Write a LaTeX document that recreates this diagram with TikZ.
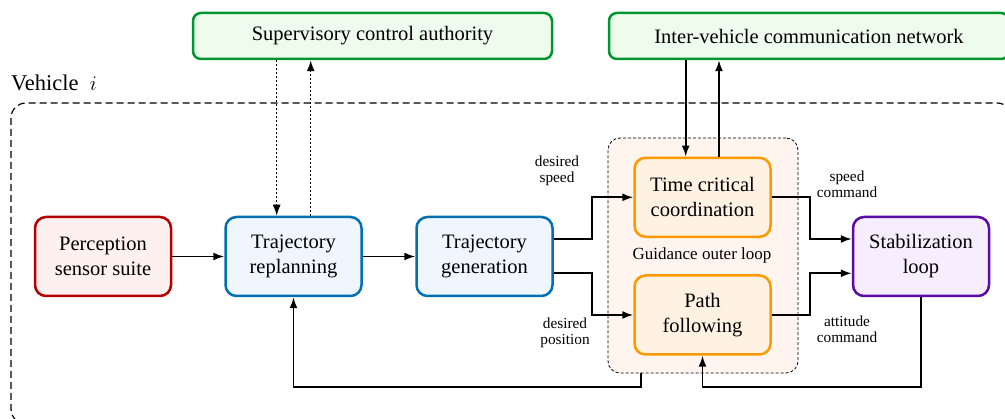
\documentclass[tikz,border=0pt]{standalone}
\usepackage{fontspec}
\setmainfont{Liberation Serif}
\usetikzlibrary{arrows.meta,positioning}

\definecolor{redE}{RGB}{180,0,0}
\definecolor{redF}{RGB}{255,240,240}
\definecolor{blueE}{RGB}{0,112,176}
\definecolor{blueF}{RGB}{240,246,255}
\definecolor{orangeE}{RGB}{255,153,0}
\definecolor{orangeF}{RGB}{255,242,226}
\definecolor{purpleE}{RGB}{92,10,166}
\definecolor{purpleF}{RGB}{246,238,255}
\definecolor{greenE}{RGB}{0,150,46}
\definecolor{greenF}{RGB}{238,252,238}
\definecolor{guideF}{RGB}{255,245,238}

\tikzset{
  block/.style={rounded corners=11pt, line width=2.5pt, minimum width=136pt,
    minimum height=79pt, align=center, inner sep=0pt,
    font=\fontsize{20.5}{25}\selectfont},
  extbox/.style={rounded corners=8pt, line width=2.5pt, draw=greenE, fill=greenF,
    minimum height=46pt, inner sep=0pt, font=\fontsize{20.5}{25}\selectfont},
  lbl/.style={align=center, inner sep=0pt, font=\fontsize{15.3}{16}\selectfont},
  conn/.style={line width=1.7pt, -{Latex[length=11pt,width=8pt]}},
  dotconn/.style={line width=1.5pt, dash pattern=on 2pt off 2pt},
}

\begin{document}
\begin{tikzpicture}[x=1pt,y=-1pt]
\useasboundingbox (0,0) rectangle (1005,419);

% vehicle boundary
\draw[line width=1.2pt, dash pattern=on 7pt off 4pt, rounded corners=15pt]
  (11,103) rectangle (1012,424);
\node[anchor=base west, inner sep=0pt, font=\fontsize{22.5}{26}\selectfont]
  (veh) at (11,91) {Vehicle~~$i$};

% guidance outer loop region
\node[draw, fill=guideF, line width=0.8pt, dash pattern=on 3pt off 2pt,
  rounded corners=12pt, minimum width=190pt, minimum height=235pt, inner sep=0pt]
  (guide) at (703,255.5) {};
\node[inner sep=0pt, font=\fontsize{17}{20}\selectfont] (guidelbl) at (702,255) {Guidance outer loop};

% external entities
\node[extbox, minimum width=359pt] (sup) at (372.5,36) {Supervisory control authority};
\node[extbox, minimum width=400pt] (ivc) at (809,36) {Inter-vehicle communication network};

% blocks
\node[block, draw=redE, fill=redF] (perc) at (103,256.5) {Perception\\sensor suite};
\node[block, draw=blueE, fill=blueF] (replan) at (293.5,256.5) {Trajectory\\replanning};
\node[block, draw=blueE, fill=blueF] (gen) at (484.5,256.5) {Trajectory\\generation};
\node[block, draw=orangeE, fill=orangeF] (tcc) at (702.5,197.3) {Time critical\\coordination};
\node[block, draw=orangeE, fill=orangeF] (pf) at (702.5,315) {Path\\following};
\node[block, draw=purpleE, fill=purpleF] (stab) at (921,256.5) {Stabilization\\loop};

% helper coordinates
\coordinate (sdn) at (276.7,0);
\coordinate (sup2) at (310.7,0);
\coordinate (idn) at (685.7,0);
\coordinate (iup) at (719,0);
\coordinate (jL) at (591.7,0);
\coordinate (jR) at (810,0);
\coordinate (fb) at (0,386.7);
\coordinate (gx) at (640.7,0);
\coordinate (genA) at ([yshift=17.5pt]gen.east);
\coordinate (genB) at ([yshift=-16.8pt]gen.east);
\coordinate (stabA) at ([yshift=17.5pt]stab.west);
\coordinate (stabB) at ([yshift=-16.8pt]stab.west);

% main chain
\draw[conn] (perc) -- (replan);
\draw[conn] (replan) -- (gen);

% supervisory link
\draw[dotconn, -{Latex[length=11pt,width=8pt]}] (sup.south -| sdn) -- (replan.north -| sdn);
\draw[dotconn, -{Latex[length=11pt,width=8pt]}] (replan.north -| sup2) -- (sup.south -| sup2);

% inter-vehicle link
\draw[conn] (ivc.south -| idn) -- (tcc.north -| idn);
\draw[conn] (tcc.north -| iup) -- (ivc.south -| iup);

% generation to guidance
\draw[conn] (genA) -| (jL |- tcc.west) -- (tcc.west);
\draw[conn] (genB) -| (jL |- pf.west) -- (pf.west);

% guidance to stabilization
\draw[conn] (tcc.east) -| (jR |- stabA) -- (stabA);
\draw[conn] (pf.east) -| (jR |- stabB) -- (stabB);

% feedback paths
\draw[conn] (stab.south) |- (fb -| pf.south) -- (pf.south);
\draw[conn] (guide.south -| gx) |- (fb -| replan.south) -- (replan.south);

% labels
\node[lbl] (ldspeed) at (557,171) {desired\\speed};
\node[lbl] (ldpos) at (565,333) {desired\\position};
\node[lbl] (lscmd) at (847,184.7) {speed\\command};
\node[lbl] (lacmd) at (847,329.2) {attitude\\command};
\end{tikzpicture}
\end{document}
